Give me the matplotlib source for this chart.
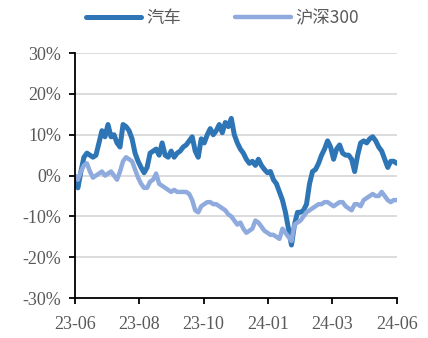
import matplotlib
matplotlib.use('Agg')
import matplotlib.pyplot as plt
import numpy as np

plt.rcParams['font.family'] = ['Noto Sans CJK SC', 'DejaVu Sans']

# 累计涨跌幅 (%), 2023-06 至 2024-06
auto = [-1, -3, 1, 4.5, 5.5, 5, 4.5, 5, 8, 11, 9.5, 12.5, 9.5, 10, 8, 7, 12.5, 12, 11, 9,
        5.5, 3.5, 2, 0.7, 2, 5.5, 6, 6.5, 5, 8, 5, 4.5, 6, 4.5, 5.5, 6, 7, 7.5, 8.5, 9.5,
        6, 4.5, 9, 8, 10, 11.5, 10, 11, 12.5, 10.5, 13, 12, 14, 10, 8, 6.5, 5.5, 4, 3, 3.5,
        2.5, 4, 2.5, 1.5, 0.7, 1, -1, -2, -4, -6, -9, -13, -17, -12, -9, -9, -8.5, -7, -2,
        1, 1.5, 3, 5, 6.5, 8.5, 7, 4, 6.5, 7.5, 5.5, 5, 5, 4, 1, 5, 8, 8.5, 8, 9,
        9.5, 8.5, 7, 6, 4, 2, 3.5, 3.5, 3]
hs300 = [0, -1, 1, 2.5, 3, 1, -0.5, 0, 0.5, 1, 0, 0.5, 1, 0, -1, 1, 3.5, 4.5, 4, 3.5,
         1.5, -0.5, -2, -3, -3, -1.5, -1, 0.5, -2, -2.5, -3, -3.5, -4, -3.5, -4, -4, -4, -4, -4.5, -6,
         -8.5, -9, -7.5, -7, -6.5, -6.5, -7, -7, -7.5, -8, -8.5, -9.5, -10, -11, -12, -11.5, -13, -14, -13.5, -13,
         -11, -11.5, -12.5, -13.5, -14, -14.5, -14.5, -15, -15.5, -13, -14, -15, -16, -12, -11.5, -11, -10, -9, -8.5, -8,
         -7.5, -7, -7, -6.5, -6.5, -7, -7.5, -7, -6.5, -6.5, -7.5, -8, -8.5, -7, -7, -7.5, -6, -5.5, -5, -4.5,
         -5, -5, -4, -5, -6, -6.5, -6, -6]
xlabels = ['23-06', '23-08', '23-10', '24-01', '24-03', '24-06']

x = np.arange(len(auto))
fig = plt.figure(figsize=(4.28, 3.38), dpi=100)
ax = fig.add_axes([0.175, 0.118, 0.752, 0.725])

ax.plot(x, auto, color='#2E75B6', linewidth=3.6, label='汽车', solid_capstyle='round')
ax.plot(x, hs300, color='#8FAADC', linewidth=3.2, label='沪深300', solid_capstyle='round')

ax.set_xlim(0, len(auto) - 1)
ax.set_ylim(-30, 30)
ax.set_yticks(np.arange(-30, 31, 10))
ax.set_yticklabels([f'{v}%' for v in range(-30, 31, 10)])
ax.set_xticks(np.linspace(0, len(auto) - 1, len(xlabels)))
ax.set_xticklabels(xlabels)
ax.yaxis.grid(True, color='#D9D9D9', linewidth=1.3)
ax.set_axisbelow(True)
for s in ['top', 'right']:
    ax.spines[s].set_visible(False)
for s in ['left', 'bottom']:
    ax.spines[s].set_linewidth(1.3)
    ax.spines[s].set_color('black')
ax.tick_params(axis='both', direction='out', length=4, width=1.3, colors='black',
               labelcolor='#595959', labelsize=13)
for lab in ax.get_xticklabels() + ax.get_yticklabels():
    lab.set_family('Liberation Serif')
ax.tick_params(axis='x', pad=9)
ax.tick_params(axis='y', pad=6)

fig.legend(loc='upper center', bbox_to_anchor=(0.52, 1.02), ncol=2, frameon=False,
           handlelength=3.2, columnspacing=3.1, handletextpad=0.3,
           prop={'size': 12.5}, labelcolor='#595959')

fig.savefig('out.png', dpi=100)
